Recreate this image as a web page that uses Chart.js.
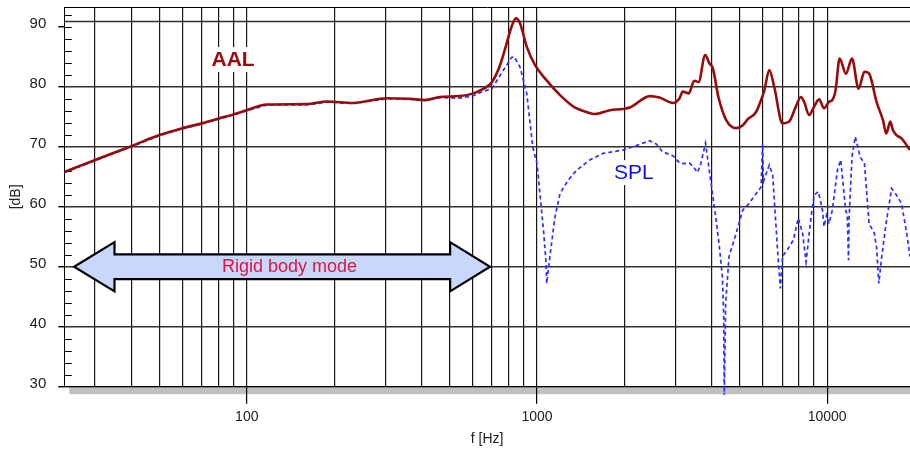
<!DOCTYPE html>
<html>
<head>
<meta charset="utf-8">
<script src="https://cdn.jsdelivr.net/npm/chart.js@4/dist/chart.umd.min.js"></script>
<style>
  html, body { margin: 0; padding: 0; background: #fff; }
  canvas { display: block; }
</style>
</head>
<body>
<canvas id="fr-chart" width="910" height="454"></canvas>
<script>
// AAL curve (Hz / dB)
const aalFreq = [23.5, 30, 40, 50, 60, 70, 80, 90, 100, 117, 161, 189, 233, 304, 365, 411, 463, 543,
  603, 650, 700, 746, 786, 817, 847, 874, 922, 985, 1078, 1201, 1336, 1481, 1583, 1785, 1980, 2100,
  2449, 2642, 2952, 3100, 3180, 3333, 3485, 3605, 3800, 3930, 4036, 4220, 4495, 4860, 5120, 5330,
  5690, 5920, 6075, 6320, 6570, 7020, 7400, 7800, 8120, 8330, 8670, 9020, 9380, 9760, 10150, 10420,
  10690, 11040, 11610, 12180, 12830, 13450, 13950, 14800, 15580, 15990, 16500, 16850, 17320, 18040, 19300];
const aalLevel = [65.8, 67.8, 70.1, 71.95, 73.1, 73.9, 74.7, 75.4, 76.1, 77.05, 77.1, 77.55, 77.3, 78.1, 78.0, 77.8, 78.3, 78.45,
  78.9, 79.6, 80.8, 83.6, 87.2, 90.0, 91.4, 90.6, 86.7, 83.6, 81.1, 78.6, 76.7, 75.8, 75.45, 76.1, 76.3, 76.6,
  78.45, 78.2, 77.3, 78.1, 79.2, 78.9, 81.0, 80.8, 85.3, 83.9, 83.1, 78.3, 74.4, 73.1, 73.6, 74.6,
  75.8, 77.8, 79.4, 82.8, 80.0, 73.9, 74.2, 76.7, 78.3, 77.5, 75.3, 76.7, 77.9, 76.4, 77.5, 77.8,
  79.4, 84.7, 82.2, 84.7, 79.7, 82.5, 82.2, 77.5, 74.4, 72.2, 74.2, 72.8, 71.95, 71.4, 69.45];

// SPL curve (Hz / dB)
const splFreq = [23.5, 30, 40, 50, 60, 70, 80, 90, 100, 117, 161, 189, 233, 304, 365, 411, 463, 543,
  603, 650, 700, 746, 786, 817, 835, 874, 922, 967, 1000, 1026, 1053, 1075, 1080, 1108, 1153, 1201,
  1281, 1370, 1520, 1690, 1980, 2260, 2440, 2580, 2703, 2952, 3100, 3215, 3350, 3455, 3575, 3670,
  3810, 3960, 4130, 4240, 4355, 4400, 4420, 4470, 4530, 4590, 4860, 5120, 5330, 5920, 5990, 6030,
  6320, 6490, 6760, 6900, 7020, 7400, 7650, 7950, 8230, 8460, 8800, 9020, 9330, 9630, 9760, 9950,
  10150, 10420, 10850, 11140, 11580, 11730, 11850, 11900, 12180, 12500, 13000, 13450, 13800, 13950,
  14530, 14800, 15070, 15370, 15960, 16680, 17200, 18040, 18800, 19300];
const splLevel = [65.7, 67.7, 70.0, 71.85, 73.0, 73.8, 74.6, 75.3, 76.0, 76.95, 77.0, 77.45, 77.2, 78.0, 77.9, 77.7, 78.2, 78.1,
  78.5, 79.2, 79.7, 81.9, 83.6, 84.9, 85.0, 83.3, 78.9, 70.0, 67.2, 61.7, 56.1, 50.6, 47.2, 51.7, 58.3, 62.2,
  64.45, 66.1, 67.8, 68.9, 69.45, 70.4, 71.0, 70.45, 69.2, 68.45, 67.3, 67.2, 67.3, 66.7, 65.7, 67.2,
  70.6, 64.7, 58.3, 53.9, 48.3, 42.0, 28.5, 44.0, 47.8, 51.7, 55.6, 59.45, 60.3, 63.3, 70.5, 64.2,
  66.95, 65.3, 52.2, 46.4, 51.7, 53.3, 54.45, 58.1, 55.6, 50.8, 58.3, 61.95, 62.5, 59.45, 56.7, 58.6,
  57.2, 59.45, 66.1, 67.8, 59.45, 58.6, 51.1, 58.0, 68.3, 71.7, 68.3, 67.2, 60.0, 57.2,
  55.6, 53.3, 47.2, 51.1, 57.2, 63.05, 62.2, 60.55, 55.6, 51.7];

// axis ticks
const gridFreqs = [30, 40, 50, 60, 70, 80, 90, 100, 200, 300, 400, 500, 600, 700, 800, 900,
  1000, 2000, 3000, 4000, 5000, 6000, 7000, 8000, 9000, 10000];
const freqTickLabels = [100, 1000, 10000];
const levelTickLabels = [30, 40, 50, 60, 70, 80, 90];

const Config = {
  font: `"Liberation Sans", Arial, sans-serif`,
  colors: {
    aal: "#960c0c",
    spl: "#2f2fff",
    grid: "#161616",
    hgrid: "#303030",
    text: "#222",
    arrowFill: "#c8d7fb",
    rigid: "#e3143e",
    shadow: "#c0c0c0",
  },
  // annotation anchors (data coordinates)
  arrow: { from: 25.4, to: 689, headFrom: 35, headTo: 502, level: 50, shaft: 2.05, head: 4.1 },
  aalLabel: { f: 89.7, db: 84.45 },
  splLabel: { f: 2156, db: 65.6 },
  rigidLabel: { f: 140.4, db: 49.9 },
  topLine: 91.0,
};

const toPoints = (xs, ys) => xs.map((x, i) => ({ x, y: ys[i] }));

const decoPlugin = {
  id: "deco",
  beforeDraw(chart) {
    const { ctx, chartArea } = chart;
    ctx.save();
    ctx.fillStyle = Config.colors.shadow;
    ctx.fillRect(chartArea.left + 5, chartArea.bottom + 0.5, chart.width - chartArea.left - 5, 7);
    ctx.restore();
  },
  beforeDatasetsDraw(chart) {
    const { ctx, chartArea, scales } = chart;
    const x = scales.x, y = scales.y;
    ctx.save();

    // odd extra line near the top
    const ty = Math.round(y.getPixelForValue(Config.topLine)) + 0.5;
    ctx.strokeStyle = Config.colors.hgrid;
    ctx.lineWidth = 1.4;
    ctx.beginPath();
    ctx.moveTo(chartArea.left, ty);
    ctx.lineTo(chartArea.right, ty);
    ctx.stroke();

    // minor ticks pointing inwards on the level axis
    ctx.strokeStyle = "#000";
    ctx.lineWidth = 1;
    for (let v = 32; v <= 92; v += 2) {
      if (v % 10 === 0 && v !== 90) continue;
      const py = Math.round(y.getPixelForValue(v)) + 0.5;
      ctx.beginPath();
      ctx.moveTo(chartArea.left, py);
      ctx.lineTo(chartArea.left + 7.5, py);
      ctx.stroke();
    }

    // double arrow
    const a = Config.arrow;
    const x1 = x.getPixelForValue(a.from), x2 = x.getPixelForValue(a.to);
    const h1 = x.getPixelForValue(a.headFrom), h2 = x.getPixelForValue(a.headTo);
    const yc = y.getPixelForValue(a.level);
    const sh = yc - y.getPixelForValue(a.level + a.shaft);
    const hh = yc - y.getPixelForValue(a.level + a.head);
    ctx.beginPath();
    ctx.moveTo(x1, yc);
    ctx.lineTo(h1, yc - hh);
    ctx.lineTo(h1, yc - sh);
    ctx.lineTo(h2, yc - sh);
    ctx.lineTo(h2, yc - hh);
    ctx.lineTo(x2, yc);
    ctx.lineTo(h2, yc + hh);
    ctx.lineTo(h2, yc + sh);
    ctx.lineTo(h1, yc + sh);
    ctx.lineTo(h1, yc + hh);
    ctx.closePath();
    ctx.fillStyle = Config.colors.arrowFill;
    ctx.fill();
    ctx.lineWidth = 2.2;
    ctx.lineJoin = "miter";
    ctx.strokeStyle = "#000";
    ctx.stroke();

    const label = (text, pos, font, color, box) => {
      const px = x.getPixelForValue(pos.f), py = y.getPixelForValue(pos.db);
      ctx.font = font;
      ctx.textAlign = "center";
      ctx.textBaseline = "middle";
      if (box) {
        const w = ctx.measureText(text).width;
        ctx.fillStyle = "#fff";
        ctx.fillRect(px - w / 2 - 3, py - 13, w + 6, 25);
      }
      ctx.fillStyle = color;
      ctx.fillText(text, px, py);
    };
    label("AAL", Config.aalLabel, `bold 21px ${Config.font}`, Config.colors.aal, true);
    label("SPL", Config.splLabel, `21px ${Config.font}`, "#1010ee", true);
    label("Rigid body mode", Config.rigidLabel, `18px ${Config.font}`, Config.colors.rigid, false);
    ctx.restore();
  },
};

new Chart(document.getElementById("fr-chart"), {
  type: "line",
  data: {
    datasets: [
      {
        label: "AAL",
        data: toPoints(aalFreq, aalLevel),
        borderColor: Config.colors.aal,
        borderWidth: 2.6,
        pointRadius: 0,
        cubicInterpolationMode: "monotone",
      },
      {
        label: "SPL",
        data: toPoints(splFreq, splLevel),
        borderColor: Config.colors.spl,
        borderWidth: 1.7,
        borderDash: [4, 3],
        pointRadius: 0,
        tension: 0,
        clip: { left: 0, top: 0, right: 0, bottom: 8 },
      },
    ],
  },
  options: {
    responsive: false,
    animation: false,
    layout: { padding: { top: 7, right: 0, left: 0, bottom: 0 } },
    plugins: { legend: { display: false }, tooltip: { enabled: false } },
    scales: {
      x: {
        type: "logarithmic",
        min: 23.5,
        max: 19300,
        afterBuildTicks: (s) => { s.ticks = gridFreqs.map((v) => ({ value: v })); },
        afterFit: (s) => { s.height = 67.3; s.paddingLeft = 0; s.paddingRight = 0; },
        ticks: {
          autoSkip: false,
          maxRotation: 0,
          padding: 5,
          color: Config.colors.text,
          font: { family: Config.font, size: 14 },
          callback: (v) => (freqTickLabels.includes(v) ? String(v) : ""),
        },
        grid: {
          color: Config.colors.grid,
          lineWidth: 1.2,
          tickLength: 17,
          tickColor: (c) => (c.tick && freqTickLabels.includes(c.tick.value) ? "#000" : "rgba(0,0,0,0)"),
        },
        border: { color: "#000", width: 1 },
        title: {
          display: true,
          text: "f [Hz]",
          color: Config.colors.text,
          font: { family: Config.font, size: 14 },
          padding: { top: 2, bottom: 6 },
        },
      },
      y: {
        min: 30,
        max: 93.3,
        afterFit: (s) => { s.width = 64.3; s.paddingTop = 0; s.paddingBottom = 0; },
        ticks: {
          stepSize: 2,
          autoSkip: false,
          padding: 12,
          labelOffset: -3,
          color: Config.colors.text,
          font: { family: Config.font, size: 15 },
          callback: (v) => (levelTickLabels.includes(v) ? String(v) : ""),
        },
        grid: {
          lineWidth: (c) => (c.tick && c.tick.value > 93 ? 1 : 1.4),
          tickLength: 6,
          color: (c) => {
            const v = c.tick ? c.tick.value : 0;
            if (v > 93) return "#000";
            return v % 10 === 0 && v < 90 ? Config.colors.hgrid : "rgba(0,0,0,0)";
          },
          tickColor: (c) => (c.tick && levelTickLabels.includes(c.tick.value) ? "#000" : "rgba(0,0,0,0)"),
        },
        border: { color: "#000", width: 1 },
        title: {
          display: true,
          text: "[dB]",
          color: Config.colors.text,
          font: { family: Config.font, size: 14 },
          padding: { top: 8, bottom: 0 },
        },
      },
    },
  },
  plugins: [decoPlugin],
});
</script>
</body>
</html>
